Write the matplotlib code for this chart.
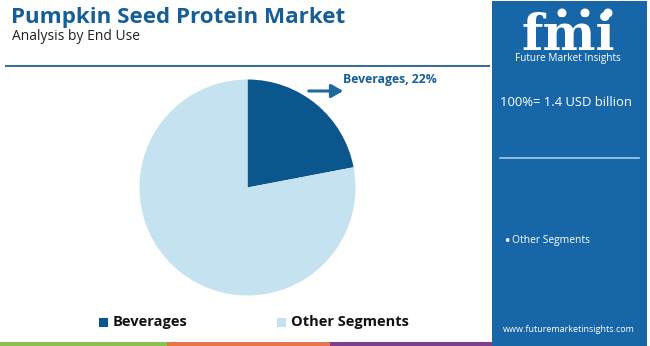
import matplotlib
matplotlib.use("Agg")
import matplotlib.pyplot as plt
from matplotlib.patches import Rectangle, Circle

# segment shares (percent of a 1.4 USD billion market)
segments = ["Beverages", "Other Segments"]
shares = [22, 78]
colors = ["#0b568c", "#c5e2f1"]
market_total = "100%= 1.4 USD billion"

title = "Pumpkin Seed Protein Market"
subtitle = "Analysis by End Use"
panel_blue = "#1767a8"
title_blue = "#155e96"

W, H = 650, 346
fig = plt.figure(figsize=(W / 100, H / 100), dpi=100)
fig.patch.set_facecolor("white")

# overlay axes in pixel units for the frame decorations
bg = fig.add_axes([0, 0, 1, 1])
bg.set_xlim(0, W)
bg.set_ylim(H, 0)
bg.axis("off")

# header rule and coloured footer strip
bg.plot([5, 490], [66, 66], color="#2e6c9c", lw=1.4, solid_capstyle="butt")
strip = [(0, 167, "#8cc04e"), (167, 330, "#e8744b"), (330, 495, "#7c3e8e")]
for x0, x1, c in strip:
    bg.add_patch(Rectangle((x0, 342), x1 - x0, 4, color=c, lw=0))

# right info panel
bg.add_patch(Rectangle((492, 1), 155, 346, color=panel_blue, lw=0))

# logo: striped "fmi" letters with three small globes on top
bg.text(568, 50, "fmi", color="white", fontsize=36, fontweight="bold",
        family="DejaVu Serif", ha="center", va="baseline")
for y in range(16, 52, 3):
    bg.plot([512, 628], [y + 0.5, y + 0.5], color=panel_blue, lw=0.6)
for cx in (562, 585, 608):
    bg.add_patch(Circle((cx, 13), 4.5, color="white", lw=0))
bg.text(568, 59, "Future Market Insights", color="white", fontsize=7.2,
        family="Open Sans", ha="center", va="center")

bg.text(500, 102, market_total, color="white", fontsize=9.4,
        family="Open Sans", ha="left", va="center")
bg.plot([500, 639], [158, 158], color="#a9cbe8", lw=1.2)
bg.text(503, 241, "•", color="white", fontsize=9,
        family="DejaVu Sans", ha="left", va="center")
bg.text(512, 241, "Other Segments", color="white", fontsize=7.4,
        family="Open Sans", ha="left", va="center")
bg.text(569, 330, "www.futuremarketinsights.com", color="white", fontsize=6.5,
        family="Open Sans", ha="center", va="center")

# titles
bg.text(11, 17, title, color=title_blue, fontsize=16.1, fontweight="bold",
        family="Open Sans", ha="left", va="center")
bg.text(12, 37, subtitle, color="#222222", fontsize=10,
        family="Open Sans", ha="left", va="center")

# pie
ax = fig.add_axes([139.5 / W, 1 - 295.5 / H, 216 / W, 216 / H])
ax.pie(shares, colors=colors, startangle=90, counterclock=False,
       radius=1.0, wedgeprops=dict(linewidth=0))
ax.set_xlim(-1, 1)
ax.set_ylim(-1, 1)
ax.set_aspect("equal")
ax.axis("off")

# callout for the first segment
bg.annotate("", xy=(346, 91), xytext=(306, 91),
            arrowprops=dict(arrowstyle="-|>,head_length=0.7,head_width=0.4",
                            color="#1e6aa0", lw=2.2))
bg.text(343, 79, f"{segments[0]}, {shares[0]}%", color=title_blue, fontsize=8.8,
        fontweight="bold", family="Open Sans", ha="left", va="center")

# legend
legend_pos = [(99, 113), (277, 291)]
for (sx, tx), name, c in zip(legend_pos, segments, colors):
    bg.add_patch(Rectangle((sx, 318), 9, 9, color=c, lw=0))
    bg.text(tx, 322, name, color="#111111", fontsize=10.5, fontweight="bold",
            family="Open Sans", ha="left", va="center")

fig.savefig("out.png", dpi=100, facecolor="white")
